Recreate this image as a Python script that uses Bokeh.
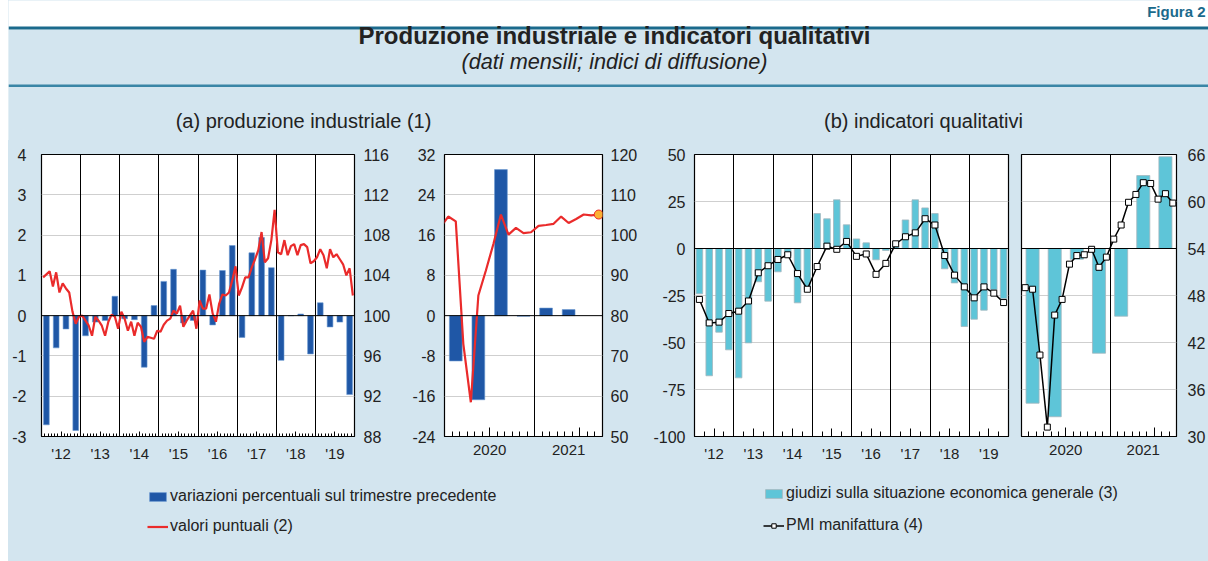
from bokeh.plotting import figure
from bokeh.models import (Range1d, LinearAxis, FixedTicker, Grid, Span, Label,
                          Legend, LegendItem, BoxAnnotation, Spacer)
from bokeh.layouts import row, column
from bokeh.embed import file_html
from bokeh.resources import INLINE

# ---------------------------------------------------------------- data
FIG_NO = "Figura 2"
TITLE = "Produzione industriale e indicatori qualitativi"
SUBTITLE = "(dati mensili; indici di diffusione)"
PANEL_A = "(a) produzione industriale (1)"
PANEL_B = "(b) indicatori qualitativi"

years_2012_2019 = ["'12", "'13", "'14", "'15", "'16", "'17", "'18", "'19"]
years_2020_2021 = ["2020", "2021"]

# (a) quarterly % change on previous quarter, 2012Q1-2019Q4
ip_qoq_2012_2019 = [-2.71, -0.80, -0.33, -2.85,
                    -0.50, -0.16, -0.12, 0.48,
                    -0.08, -0.10, -1.28, 0.25,
                    0.85, 1.15, -0.18, -0.12,
                    1.13, -0.23, 1.12, 1.74,
                    -0.54, 1.56, 1.94, 1.19,
                    -1.11, 0.00, 0.04, -0.95,
                    0.32, -0.28, -0.16, -1.96]
# (a) monthly index level, Jan 2012 - Dec 2019
ip_level_2012_2019 = [103.8, 104.1, 104.4, 102.9, 104.3, 102.3, 103.2, 102.7, 102.3, 100.4, 99.2, 99.9,
                      100.0, 99.5, 99.0, 98.0, 99.9, 99.5, 99.0, 98.0, 99.4, 100.1, 99.9, 98.7,
                      100.4, 99.7, 98.5, 99.4, 98.0, 99.3, 98.9, 97.4, 97.9, 97.8, 97.7, 98.5,
                      98.4, 99.1, 99.5, 99.7, 100.5, 100.2, 101.0, 98.9, 99.5, 100.0, 100.5, 98.7,
                      101.5, 100.7, 100.7, 102.1, 100.2, 99.4, 101.2, 102.1, 102.0, 102.3, 103.5, 104.9,
                      102.0, 102.8, 103.8, 103.8, 104.8, 105.6, 106.5, 108.3, 105.3, 105.7, 107.5, 110.5,
                      106.3, 106.1, 107.5, 106.0, 106.9, 107.1, 106.0, 107.0, 107.1, 106.8, 105.2, 105.4,
                      105.8, 106.6, 106.0, 104.7, 106.6, 105.8, 106.1, 105.6, 105.1, 104.0, 104.7, 102.0]
# (a) 2020Q1-2021Q2
ip_qoq_2020_2021 = [-9.0, -16.7, 29.0, -0.1, 1.5, 1.2]
# (a) monthly index level, Dec 2019 - Sep 2021
ip_level_2020_2021 = [102.0, 104.6, 103.4, 73.0, 58.5, 85.0, 91.2, 97.8, 105.1, 100.1, 101.8, 100.5,
                      100.7, 102.3, 102.5, 102.8, 104.6, 103.0, 104.0, 105.1, 104.9, 105.1]
ip_estimate_sep_2021 = [105.1]

# (b) judgements on general economic situation, quarterly 2012Q1-2019Q4
giudizi_2012_2019 = [-24.1, -67.7, -44.5, -53.9,
                     -68.8, -50.2, -17.7, -28.0,
                     -12.4, -4.0, -28.9, -22.0,
                     18.6, 15.8, 25.9, 12.6,
                     5.1, 3.0, -6.0, -1.0,
                     1.0, 15.2, 25.9, 21.6,
                     18.6, -10.8, -18.3, -41.5,
                     -37.6, -32.8, -22.0, -26.6]
# (b) PMI manufacturing, quarterly averages 2012Q1-2019Q4
pmi_2012_2019 = [47.5, 44.5, 44.6, 45.7, 46.0, 47.3, 50.9, 51.8,
                 52.6, 53.2, 50.8, 48.8, 51.7, 54.3, 53.9, 54.9,
                 53.0, 53.3, 50.7, 52.1, 54.6, 55.5, 56.0, 57.8,
                 57.0, 53.1, 50.6, 49.1, 47.7, 49.1, 48.3, 47.1]
# (b) 2020Q1-2021Q3
giudizi_2020_2021 = [-82.3, -89.5, -5.7, -55.7, -36.0, 38.8, 48.8]
# (b) PMI monthly Jan 2020 - Sep 2021
pmi_2020_2021 = [49.0, 48.8, 40.4, 31.2, 45.5, 47.5, 52.0, 53.1, 53.2, 53.9, 51.6, 52.9,
                 55.2, 57.0, 59.9, 60.9, 62.4, 62.3, 60.3, 61.0, 59.8]

a1_left_ticks = [-3, -2, -1, 0, 1, 2, 3, 4]
a1_right_ticks = [88, 92, 96, 100, 104, 108, 112, 116]
a2_left_ticks = [-24, -16, -8, 0, 8, 16, 24, 32]
a2_right_ticks = [50, 60, 70, 80, 90, 100, 110, 120]
b_left_ticks = [-100, -75, -50, -25, 0, 25, 50]
b_right_ticks = [30, 36, 42, 48, 54, 60, 66]

LEG_A = ["variazioni percentuali sul trimestre precedente", "valori puntuali (2)"]
LEG_B = ["giudizi sulla situazione economica generale (3)", "PMI manifattura (4)"]

# ---------------------------------------------------------------- style
BG = "#d3e5ef"
TEAL_DARK = "#1b6a8c"
TEAL = "#3a86a6"
FONT = "Liberation Sans"
TXT = "#222222"
BLUE = "#1f57a6"
BLUE_EDGE = "#6a98d2"
CYAN = "#5ec5d8"
CYAN_EDGE = "#a3b6be"
RED = "#ea2b2b"
ORANGE = "#fbb034"
GRID = "#cfcfcf"

# x positions (months from start of period)
n_a1 = len(years_2012_2019) * 12
month_mid_a1 = [i + 0.5 for i in range(n_a1)]
quarter_mid_a1 = [q * 3 + 1.5 for q in range(len(ip_qoq_2012_2019))]
n_a2 = len(pmi_2020_2021)
month_mid_a2 = [i - 0.5 for i in range(len(ip_level_2020_2021))]  # starts Dec 2019
quarter_mid_a2 = [q * 3 + 1.5 for q in range(len(ip_qoq_2020_2021))]
quarter_mid_b1 = [q * 3 + 1.5 for q in range(len(giudizi_2012_2019))]
quarter_mid_b2 = [q * 3 + 1.5 for q in range(len(giudizi_2020_2021))]
month_mid_b2 = [i + 0.5 for i in range(n_a2)]


def panel(width, lb, rb, n_months, yr):
    p = figure(width=width, height=330, x_range=Range1d(0, n_months), y_range=yr,
               min_border_left=lb, min_border_right=rb, min_border_top=14, min_border_bottom=34,
               toolbar_location=None, output_backend="svg",
               x_axis_location=None, y_axis_location=None,
               background_fill_color="white", border_fill_color=BG,
               outline_line_color="black", outline_line_width=1.2)
    p.center = [c for c in p.center if not isinstance(c, Grid)]
    return p


def grids(p, hticks, year_ticks):
    p.add_layout(Grid(dimension=1, ticker=FixedTicker(ticks=hticks),
                      grid_line_color=GRID, grid_line_width=1), "center")
    p.add_layout(Grid(dimension=0, ticker=FixedTicker(ticks=year_ticks),
                      grid_line_color="black", grid_line_width=1), "center")
    p.add_layout(Span(location=0, dimension="width", line_color="black", line_width=1))


def y_axis(p, side, ticks, standoff, range_name="default"):
    ax = LinearAxis(y_range_name=range_name, ticker=FixedTicker(ticks=ticks, minor_ticks=[]),
                    major_label_overrides={t: str(t) for t in ticks},
                    major_tick_in=0, major_tick_out=0, minor_tick_in=0, minor_tick_out=0,
                    axis_line_color=None, major_label_standoff=standoff,
                    major_label_text_font=FONT, major_label_text_font_size="16px",
                    major_label_text_color=TXT)
    p.add_layout(ax, side)


def x_axis(p, major, minor, maj_len, min_len, label_pos, labels):
    same = list(label_pos) == list(major)
    ax = LinearAxis(ticker=FixedTicker(ticks=major, minor_ticks=minor),
                    major_tick_in=maj_len, major_tick_out=0,
                    minor_tick_in=min_len, minor_tick_out=0,
                    major_tick_line_color="black", minor_tick_line_color="black",
                    axis_line_color="black",
                    major_label_text_font=FONT, major_label_text_color=TXT)
    if same:
        ax.major_label_overrides = {t: l for t, l in zip(major, labels)}
        ax.major_label_standoff = 8
        ax.major_label_text_font_size = "15px"
        p.add_layout(ax, "below")
    else:
        ax.major_label_overrides = {t: "" for t in major}
        ax.major_label_standoff = 0
        ax.major_label_text_font_size = "0px"
        p.add_layout(ax, "below")
        lab = LinearAxis(ticker=FixedTicker(ticks=label_pos, minor_ticks=[]),
                         major_label_overrides={t: l for t, l in zip(label_pos, labels)},
                         major_tick_in=0, major_tick_out=0, minor_tick_in=0, minor_tick_out=0,
                         axis_line_color=None, major_label_standoff=8,
                         major_label_text_font=FONT, major_label_text_font_size="15px",
                         major_label_text_color=TXT)
        p.add_layout(lab, "below")


# ---------------------------------------------------------------- panel a1
a1 = panel(392, 33, 46, n_a1, Range1d(a1_left_ticks[0], a1_left_ticks[-1]))
a1.extra_y_ranges = {"idx": Range1d(a1_right_ticks[0], a1_right_ticks[-1])}
grids(a1, [t for t in a1_left_ticks if t not in (0, a1_left_ticks[0], a1_left_ticks[-1])],
      [12 * k for k in range(1, 8)])
a1.vbar(x=quarter_mid_a1, top=ip_qoq_2012_2019, bottom=0, width=1.75,
        fill_color=BLUE, line_color=BLUE_EDGE, line_width=0.6)
a1.line(x=month_mid_a1, y=ip_level_2012_2019, y_range_name="idx", line_color=RED, line_width=2.2)
y_axis(a1, "left", a1_left_ticks, 15)
y_axis(a1, "right", a1_right_ticks, 9, "idx")
mid_years = [12 * k + 6 for k in range(8)]
x_axis(a1, mid_years, [m for m in range(1, n_a1) if m % 12 not in (0, 6)], 5, 3,
       mid_years, years_2012_2019)

# ---------------------------------------------------------------- panel a2
a2 = panel(250, 44, 48, n_a2, Range1d(a2_left_ticks[0], a2_left_ticks[-1]))
a2.extra_y_ranges = {"idx": Range1d(a2_right_ticks[0], a2_right_ticks[-1])}
grids(a2, [t for t in a2_left_ticks if t not in (0, a2_left_ticks[0], a2_left_ticks[-1])], [12])
a2.vbar(x=quarter_mid_a2, top=ip_qoq_2020_2021, bottom=0, width=1.7,
        fill_color=BLUE, line_color=BLUE_EDGE, line_width=0.6)
a2.line(x=month_mid_a2, y=ip_level_2020_2021, y_range_name="idx", line_color=RED, line_width=2.2)
a2.scatter(x=[month_mid_a2[-1]], y=ip_estimate_sep_2021, y_range_name="idx", size=9,
           fill_color=ORANGE, line_color=RED, line_width=1)
y_axis(a2, "left", a2_left_ticks, 9)
y_axis(a2, "right", a2_right_ticks, 8, "idx")
x_axis(a2, [6, 18], [m for m in range(1, n_a2) if m not in (6, 12, 18)], 9, 5,
       [6, 12 + (n_a2 - 12) / 2], years_2020_2021)

# ---------------------------------------------------------------- panel b1
b1 = panel(364, 44, 6, n_a1, Range1d(b_left_ticks[0], b_left_ticks[-1]))
b1.extra_y_ranges = {"pmi": Range1d(b_right_ticks[0], b_right_ticks[-1])}
grids(b1, [t for t in b_left_ticks if t not in (0, b_left_ticks[0], b_left_ticks[-1])],
      [12 * k for k in range(1, 8)])
b1.vbar(x=quarter_mid_b1, top=giudizi_2012_2019, bottom=0, width=2.0,
        fill_color=CYAN, line_color=CYAN_EDGE, line_width=0.8)
b1.line(x=quarter_mid_b1, y=pmi_2012_2019, y_range_name="pmi", line_color="black", line_width=1.5)
b1.scatter(x=quarter_mid_b1, y=pmi_2012_2019, y_range_name="pmi", marker="square", size=6,
           fill_color="white", line_color="black", line_width=1)
y_axis(b1, "left", b_left_ticks, 9)
x_axis(b1, mid_years, [m for m in range(3, n_a1, 3) if m % 12 in (3, 9)], 8, 5,
       mid_years, years_2012_2019)

# ---------------------------------------------------------------- panel b2
b2 = panel(194, 7, 29, n_a2, Range1d(b_left_ticks[0], b_left_ticks[-1]))
b2.extra_y_ranges = {"pmi": Range1d(b_right_ticks[0], b_right_ticks[-1])}
grids(b2, [t for t in b_left_ticks if t not in (0, b_left_ticks[0], b_left_ticks[-1])], [12])
b2.vbar(x=quarter_mid_b2, top=giudizi_2020_2021, bottom=0, width=1.77,
        fill_color=CYAN, line_color=CYAN_EDGE, line_width=0.8)
b2.line(x=month_mid_b2, y=pmi_2020_2021, y_range_name="pmi", line_color="black", line_width=1.5)
b2.scatter(x=month_mid_b2, y=pmi_2020_2021, y_range_name="pmi", marker="square", size=6,
           fill_color="white", line_color="black", line_width=1)
y_axis(b2, "right", b_right_ticks, 11, "pmi")
x_axis(b2, [6, 18], [m for m in range(1, n_a2) if m not in (6, 12, 18)], 9, 5,
       [6, 12 + (n_a2 - 12) / 2], years_2020_2021)

# ---------------------------------------------------------------- header
header = figure(width=1200, height=140, x_range=Range1d(8, 1208), y_range=Range1d(140, 0),
                toolbar_location=None, output_backend="svg",
                x_axis_location=None, y_axis_location=None, min_border=0,
                background_fill_color="white", border_fill_color="white",
                outline_line_color=None)
header.center = [c for c in header.center if not isinstance(c, Grid)]
header.add_layout(BoxAnnotation(top=29, bottom=141, fill_color=BG, fill_alpha=1, line_color=None))
header.add_layout(BoxAnnotation(top=26, bottom=29, fill_color=TEAL_DARK, fill_alpha=1, line_color=None))
header.add_layout(BoxAnnotation(top=84, bottom=86.5, fill_color=TEAL, fill_alpha=1, line_color=None))
header.add_layout(Label(x=1205, y=2, text=FIG_NO, text_align="right", text_baseline="top",
                        text_font=FONT, text_font_size="15px", text_font_style="bold",
                        text_color=TEAL_DARK))
header.add_layout(Label(x=614, y=35, text=TITLE, text_align="center", text_baseline="middle",
                        text_font=FONT, text_font_size="24px", text_font_style="bold",
                        text_color=TXT))
header.add_layout(Label(x=614, y=61, text=SUBTITLE, text_align="center", text_baseline="middle",
                        text_font=FONT, text_font_size="21.7px", text_font_style="italic",
                        text_color=TXT))
header.add_layout(Label(x=303, y=120, text=PANEL_A, text_align="center", text_baseline="middle",
                        text_font=FONT, text_font_size="20px", text_color=TXT))
header.add_layout(Label(x=923, y=120, text=PANEL_B, text_align="center", text_baseline="middle",
                        text_font=FONT, text_font_size="20px", text_color=TXT))

# ---------------------------------------------------------------- legends
leg = figure(width=1200, height=91, x_range=Range1d(8, 1208), y_range=Range1d(561, 470),
             toolbar_location=None, output_backend="svg",
             x_axis_location=None, y_axis_location=None, min_border=0,
             background_fill_color=BG, border_fill_color=BG, outline_line_color=None)
leg.center = [c for c in leg.center if not isinstance(c, Grid)]
# renderers used only for the legend swatches (hidden in this strip)
r_bar_a = leg.vbar(x=quarter_mid_a1[:1], top=ip_qoq_2012_2019[:1], width=1,
                   fill_color=BLUE, line_color=BLUE_EDGE, line_width=0.6, visible=False)
r_line_a = leg.line(x=month_mid_a1[:2], y=ip_level_2012_2019[:2], line_color=RED,
                    line_width=2.2, visible=False)
r_bar_b = leg.vbar(x=quarter_mid_b1[:1], top=giudizi_2012_2019[:1], width=1,
                   fill_color=CYAN, line_color=CYAN_EDGE, line_width=0.8, visible=False)
r_line_b = leg.line(x=quarter_mid_b1[:2], y=pmi_2012_2019[:2], line_color="black",
                    line_width=1.5, visible=False)
r_pt_b = leg.scatter(x=quarter_mid_b1[:1], y=pmi_2012_2019[:1], marker="square", size=6,
                     fill_color="white", line_color="black", visible=False)

common = dict(orientation="vertical", glyph_width=21, glyph_height=11, label_standoff=2,
              padding=0, margin=0, border_line_color=None, background_fill_alpha=0,
              label_text_font=FONT, label_text_font_size="16px", label_text_color=TXT,
              label_height=16)
leg_a = Legend(items=[LegendItem(label=LEG_A[0], renderers=[r_bar_a]),
                      LegendItem(label=LEG_A[1], renderers=[r_line_a])],
               location=(139, 26), spacing=12, **common)
leg_b = Legend(items=[LegendItem(label=LEG_B[0], renderers=[r_bar_b]),
                      LegendItem(label=LEG_B[1], renderers=[r_line_b, r_pt_b])],
               location=(755, 27), spacing=14, **common)
leg.add_layout(leg_a)
leg.add_layout(leg_b)

panels = row(a1, a2, b1, b2, styles={"background-color": BG})
body = column(header, panels, leg, styles={"background-color": BG})
layout = row(Spacer(width=8, height=561), body)
open("out.html", "w").write(file_html(layout, INLINE))
